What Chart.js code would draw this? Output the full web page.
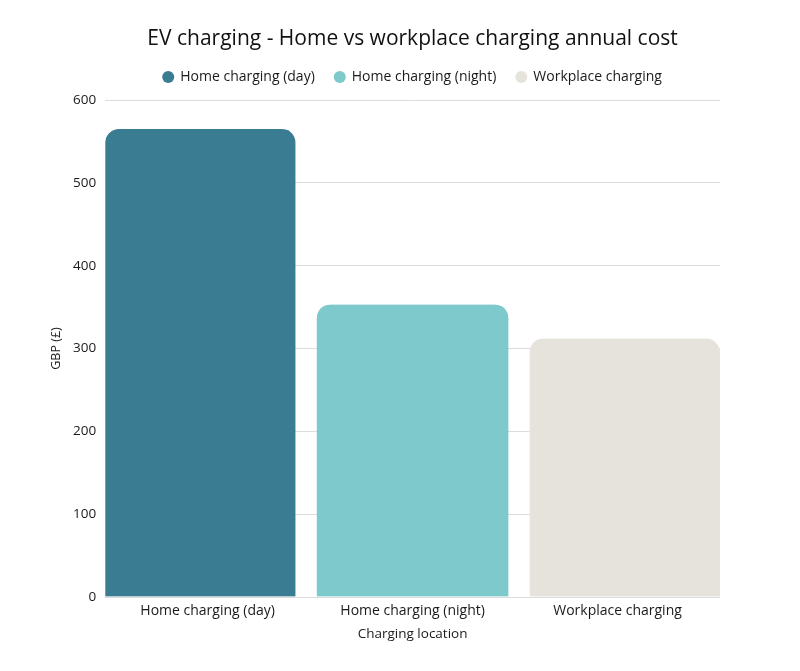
<!DOCTYPE html>
<html>
<head>
<meta charset="utf-8">
<script src="https://cdn.jsdelivr.net/npm/chart.js@4"></script>
<style>
  html, body { margin: 0; padding: 0; background: #fff; }
  #wrap { width: 800px; height: 671px; }
</style>
</head>
<body>
<div id="wrap"><canvas id="myChart"></canvas></div>
<script>
// categories and values
const categories = ['Home charging (day)', 'Home charging (night)', 'Workplace charging'];
const costs = [565, 353, 312];
const barColours = ['#3a7c92', '#7dc9cc', '#e6e3dc'];
const yTicks = [0, 100, 200, 300, 400, 500, 600];

const FONT = "'Open Sans', sans-serif";
Chart.defaults.font.family = FONT;
Chart.defaults.color = '#1a1a1a';

// transparent side borders make the gaps between bars, outer bars stay flush
const sideGaps = [[0, 15], [7, 7], [15, 0]];
const R = 14;

// one dataset per category so each gets its own legend entry
const datasets = categories.map(function (name, i) {
  var g = sideGaps[i];
  return {
    label: name,
    data: categories.map(function (c, j) { return j === i ? costs[i] : null; }),
    backgroundColor: barColours[i],
    borderColor: 'rgba(0,0,0,0)',
    borderWidth: { left: g[0], right: g[1], top: 0, bottom: 0 },
    borderRadius: { topLeft: R + g[0], topRight: R + g[1], bottomLeft: 0, bottomRight: 0 },
    borderSkipped: false,
    barPercentage: 1.0,
    categoryPercentage: 1.0
  };
});

// legend padding is used both ways; adjust the height so the plot starts where it should
const legendTrim = {
  id: 'legendTrim',
  beforeLayout: function (chart) {
    var lg = chart.legend;
    if (lg && !lg._trimmed) {
      var fit = lg.fit;
      lg.fit = function () { fit.call(this); this.height += 6; };
      lg._trimmed = true;
    }
  }
};

var ctx = document.getElementById('myChart').getContext('2d');
var chart = new Chart(ctx, {
  type: 'bar',
  data: { labels: categories, datasets: datasets },
  plugins: [legendTrim],
  options: {
    responsive: true,
    maintainAspectRatio: false,
    animation: false,
    layout: { padding: { left: 49, right: 80, top: 29, bottom: 29 } },
    plugins: {
      title: {
        display: true,
        fullSize: false,
        text: 'EV charging - Home vs workplace charging annual cost',
        font: { size: 21, weight: 'normal', lineHeight: 1.0 },
        color: '#111',
        padding: { top: 0, bottom: 0 }
      },
      legend: {
        fullSize: false,
        labels: {
          usePointStyle: true,
          pointStyle: 'circle',
          boxWidth: 10,
          boxHeight: 8.5,
          padding: 20,
          font: { size: 14 },
          color: '#1a1a1a'
        }
      },
      tooltip: { enabled: false }
    },
    scales: {
      x: {
        stacked: true,
        grid: { display: false, drawTicks: false },
        border: { display: false },
        ticks: { font: { size: 14 }, padding: 6 },
        title: { display: true, text: 'Charging location', font: { size: 13.5 }, padding: { top: 0, bottom: 0 } }
      },
      y: {
        stacked: false,
        min: 0,
        max: 600,
        afterBuildTicks: function (axis) {
          axis.ticks = yTicks.map(function (v) { return { value: v }; });
        },
        grid: { color: '#dcdcdc', drawTicks: false },
        border: { display: false },
        ticks: { font: { size: 13.5 }, padding: 9 },
        title: { display: true, text: 'GBP (£)', font: { size: 12.5 }, padding: { top: 0, bottom: 0 } }
      }
    }
  }
});
</script>
</body>
</html>
